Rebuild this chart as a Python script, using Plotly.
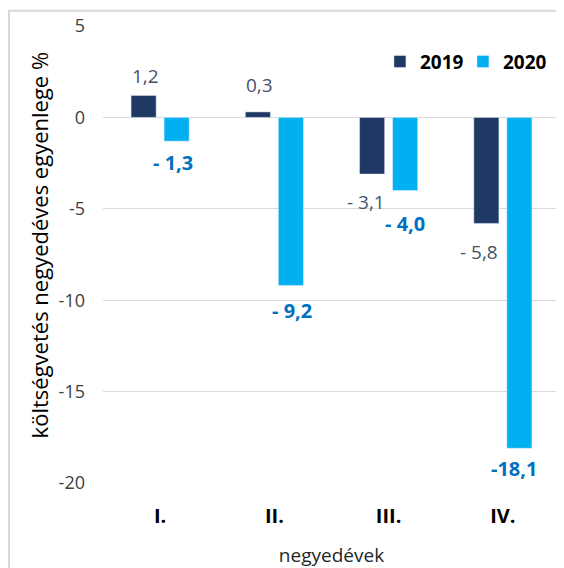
import plotly.graph_objects as go

quarters = ["I.", "II.", "III.", "IV."]
vals_2019 = [1.2, 0.3, -3.1, -5.8]
vals_2020 = [-1.3, -9.2, -4.0, -18.1]
labels_2019 = ["1,2", "0,3", "- 3,1", "- 5,8"]
labels_2020 = ["- 1,3", "- 9,2", "- 4,0", "-18,1"]
y_ticks = [5, 0, -5, -10, -15, -20]
y_ticktext = ["5", "0", "-5", "-10", "-15", "-20"]

SANS = "Open Sans, sans-serif"
C2019 = "#203864"
C2020 = "#00B0F0"

fig = go.Figure()
fig.add_trace(go.Bar(x=quarters, y=vals_2019, name="2019", marker_color=C2019))
fig.add_trace(go.Bar(x=quarters, y=vals_2020, name="2020", marker_color=C2020))

# label placement tweaks (px) - the labels in the original were hand moved
nudge_2019 = [(1.5, 4), (1.5, 12), (-6.5, -13), (-7.5, -14)]
nudge_2020 = [(-4, -6), (1.5, -9), (0, -17), (-5.5, -5)]
half = 16.5  # half the distance between the two bars of a group

annots = []
for q, v, t, (dx, dy) in zip(quarters, vals_2019, labels_2019, nudge_2019):
    annots.append(dict(
        x=q, y=v, text=t, showarrow=False,
        xshift=-half + dx, yshift=dy,
        yanchor="bottom" if v > 0 else "top",
        font=dict(family=SANS, size=19, color="#44546A"),
    ))
for q, v, t, (dx, dy) in zip(quarters, vals_2020, labels_2020, nudge_2020):
    annots.append(dict(
        x=q, y=v, text="<b>" + t + "</b>", showarrow=False,
        xshift=half + dx, yshift=dy,
        yanchor="top",
        font=dict(family=SANS, size=20, color="#0070C0"),
    ))

# y axis title as an annotation so it sits where the original has it
annots.append(dict(
    xref="paper", yref="paper", x=-0.138, y=0.522,
    xanchor="center", yanchor="middle", textangle=-90, showarrow=False,
    text="költségvetés negyedéves egyenlege %",
    font=dict(family=SANS, size=22, color="black"),
))

# the page body adds an 8px offset, so the figure is sized/margined for it
fig.update_layout(
    width=556,
    height=560,
    margin=dict(l=95, r=4, t=18, b=85),
    paper_bgcolor="white",
    plot_bgcolor="white",
    barmode="group",
    bargap=0.422,
    bargroupgap=0.24,
    font=dict(family=SANS, size=19, color="#404040"),
    annotations=annots,
    showlegend=True,
    legend=dict(
        orientation="h",
        x=0.606, y=0.922, xanchor="left", yanchor="middle",
        font=dict(family=SANS, size=19, color="black", weight="bold"),
        bgcolor="rgba(0,0,0,0)",
        entrywidth=38,
        tracegroupgap=0,
    ),
    shapes=[dict(
        type="rect", xref="paper", yref="paper",
        x0=-0.2057, x1=1.1, y0=-0.3, y1=1.0335,
        line=dict(color="#D9D9D9", width=2), fillcolor="rgba(0,0,0,0)",
    )],
)

fig.update_yaxes(
    range=[-20, 5],
    tickvals=y_ticks,
    ticktext=y_ticktext,
    showgrid=True,
    gridcolor="#D9D9D9",
    gridwidth=1,
    zeroline=True,
    zerolinecolor="#D9D9D9",
    zerolinewidth=1,
    showline=False,
    ticklabelstandoff=17,
    tickfont=dict(family=SANS, size=18, color="#404040"),
)
fig.update_xaxes(
    showgrid=False,
    showline=False,
    ticklabelstandoff=19,
    tickfont=dict(family=SANS, size=20, color="black", weight="bold"),
    title=dict(
        text="negyedévek",
        font=dict(family=SANS, size=19, color="#262626"),
        standoff=21,
    ),
)

fig.write_html("out.html")
